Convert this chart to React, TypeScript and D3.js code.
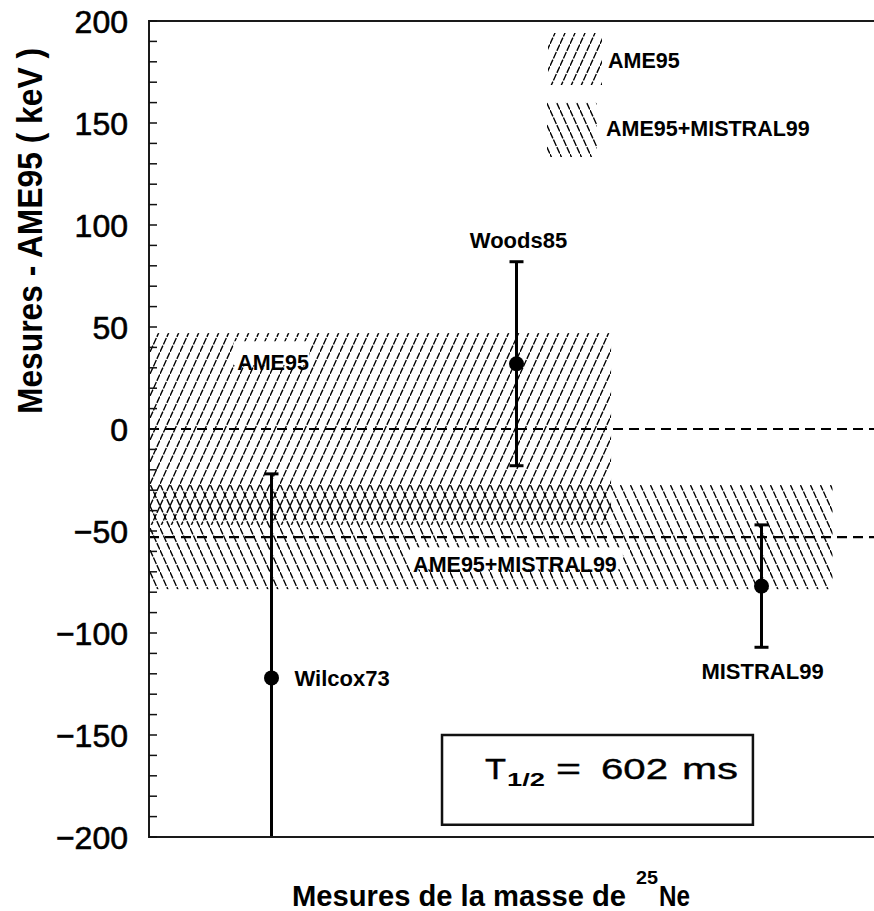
import React from "react";
import * as d3 from "d3";

// ---- data ----
const measurementNames = ["Wilcox73", "Woods85", "MISTRAL99"];
const measurementPos = [1, 2, 3];
const measurementValues = [-122, 32, -77];
const measurementErrors = [100, 50, 30];

const bandNames = ["AME95", "AME95+MISTRAL99"];
const bandCenters = [0, -53];
const bandHalfWidths = [47, 25.5];
const bandEnds = [2.386, 3.29];
const referenceLines = [0, -53];

const yMinorTicks = d3.range(-200, 201, 10);
const yMajorTicks = [-200, -150, -100, -50, 0, 50, 100, 150, 200];

const W = 874;
const H = 911;
const FONT = "'Liberation Sans', Arial, Helvetica, sans-serif";

export default function App() {
  const left = 149, top = 21, bottom = 837, right = 884;
  const x = d3.scaleLinear().domain([0.5, 3.5]).range([left, right]);
  const y = d3.scaleLinear().domain([-200, 200]).range([bottom, top]);
  const fmt = (v: number) => (v < 0 ? "\u2212" + Math.abs(v) : String(v));

  const labelPlacement = [
    { dx: 23, dy: 8, anchor: "start" },
    { dx: 2, dy: -116, anchor: "middle" },
    { dx: 1, dy: 93, anchor: "middle" },
  ];

  return (
    <svg
      width={W}
      height={H}
      viewBox={`0 0 ${W} ${H}`}
      style={{ position: "absolute", left: 0, top: 0, display: "block", background: "#fff" }}
      fontFamily={FONT}
    >
      <defs>
        <pattern id="hatchFwd" patternUnits="userSpaceOnUse" width={10} height={22}>
          <line x1={0} y1={22} x2={10} y2={0} stroke="#000" strokeWidth={1.35} strokeDasharray="7 1.3" />
        </pattern>
        <pattern id="hatchBack" patternUnits="userSpaceOnUse" width={10} height={22}>
          <line x1={0} y1={0} x2={10} y2={22} stroke="#000" strokeWidth={1.35} strokeDasharray="7 1.3" />
        </pattern>
        <clipPath id="plotClip">
          <rect x={left} y={top} width={right - left} height={bottom - top} />
        </clipPath>
      </defs>
      <rect x={0} y={0} width={W} height={H} fill="#fff" />

      <g clipPath="url(#plotClip)">
        {/* bands */}
        {bandNames.map((n, i) => (
          <rect
            key={n}
            x={x(0.5)}
            y={y(bandCenters[i] + bandHalfWidths[i])}
            width={x(bandEnds[i]) - x(0.5)}
            height={y(bandCenters[i] - bandHalfWidths[i]) - y(bandCenters[i] + bandHalfWidths[i])}
            fill={i === 0 ? "url(#hatchFwd)" : "url(#hatchBack)"}
          />
        ))}

        {/* reference dashed lines */}
        {referenceLines.map((v) => (
          <line
            key={v}
            x1={left}
            x2={W}
            y1={y(v)}
            y2={y(v)}
            stroke="#000"
            strokeWidth={2.2}
            strokeDasharray="10 6"
          />
        ))}

        {/* band labels with white background */}
        <rect x={x(0.845)} y={y(43)} width={76} height={24} fill="#fff" />
        <text x={x(0.86)} y={y(29)} fontSize={21.5} fontWeight="bold" fill="#000">
          {bandNames[0]}
        </text>
        <rect x={x(1.565)} y={y(-58)} width={213} height={22} fill="#fff" />
        <text x={x(1.578)} y={y(-70)} fontSize={21.5} fontWeight="bold" fill="#000">
          {bandNames[1]}
        </text>

        {/* error bars */}
        {measurementNames.map((n, i) => {
          const cx = x(measurementPos[i]);
          const hi = measurementValues[i] + measurementErrors[i];
          const lo = measurementValues[i] - measurementErrors[i];
          return (
            <g key={n}>
              <line x1={cx} x2={cx} y1={y(hi)} y2={y(lo)} stroke="#000" strokeWidth={3} />
              <line x1={cx - 7} x2={cx + 7} y1={y(hi)} y2={y(hi)} stroke="#000" strokeWidth={3} />
              <line x1={cx - 7} x2={cx + 7} y1={y(lo)} y2={y(lo)} stroke="#000" strokeWidth={3} />
              <circle cx={cx} cy={y(measurementValues[i])} r={7.5} fill="#000" />
            </g>
          );
        })}
      </g>

      {/* point labels */}
      {measurementNames.map((n, i) => (
        <text
          key={n}
          x={x(measurementPos[i]) + labelPlacement[i].dx}
          y={y(measurementValues[i]) + labelPlacement[i].dy}
          textAnchor={labelPlacement[i].anchor as any}
          fontSize={22}
          fontWeight="bold"
          fill="#000"
        >
          {n}
        </text>
      ))}

      {/* frame */}
      <path
        d={`M${W + 2},${top} H${left} V${bottom} H${W + 2}`}
        fill="none"
        stroke="#1a1a1a"
        strokeWidth={2}
      />

      {/* y ticks */}
      {yMinorTicks.map((t) => (
        <line key={t} x1={left} x2={left + 8} y1={y(t)} y2={y(t)} stroke="#111" strokeWidth={1.5} />
      ))}
      {yMajorTicks.map((t) => (
        <text
          key={t}
          x={128}
          y={y(t)}
          dy="0.36em"
          textAnchor="end"
          fontSize={32}
          fill="#000"
          stroke="#000"
          strokeWidth={0.6}
        >
          {fmt(t)}
        </text>
      ))}

      {/* y axis title */}
      <text
        transform={`translate(42,${231}) rotate(-90)`}
        textAnchor="middle"
        fontSize={35}
        fontWeight="bold"
        textLength={366}
        lengthAdjust="spacingAndGlyphs"
        fill="#000"
      >
        Mesures - AME95 ( keV )
      </text>

      {/* x axis title */}
      <text x={292} y={906} fontSize={30} fontWeight="bold" textLength={334} lengthAdjust="spacingAndGlyphs" fill="#000">
        Mesures de la masse de
      </text>
      <text x={636} y={884} fontSize={18} fontWeight="bold" textLength={22} lengthAdjust="spacingAndGlyphs" fill="#000">
        25
      </text>
      <text x={659} y={906} fontSize={30} fontWeight="bold" textLength={31} lengthAdjust="spacingAndGlyphs" fill="#000">
        Ne
      </text>

      {/* legend */}
      <rect x={548} y={33} width={54} height={52} fill="url(#hatchFwd)" />
      <text x={608} y={68} fontSize={21.5} fontWeight="bold" fill="#000">
        {bandNames[0]}
      </text>
      <rect x={547} y={102} width={50} height={55} fill="url(#hatchBack)" />
      <text x={606} y={136} fontSize={21.5} fontWeight="bold" fill="#000">
        {bandNames[1]}
      </text>

      {/* half-life box */}
      <rect
        x={x(1.696)}
        y={y(-150)}
        width={x(2.965) - x(1.696)}
        height={y(-194) - y(-150)}
        fill="#fff"
        stroke="#111"
        strokeWidth={2.5}
      />
      <text x={485} y={779} fontSize={29} textLength={21} lengthAdjust="spacingAndGlyphs" fill="#000" stroke="#000" strokeWidth={0.4}>
        T
      </text>
      <text x={507} y={786} fontSize={19} fontWeight="bold" textLength={38} lengthAdjust="spacingAndGlyphs" fill="#000">
        1/2
      </text>
      <text x={556} y={779} fontSize={29} textLength={25} lengthAdjust="spacingAndGlyphs" fill="#000" stroke="#000" strokeWidth={0.4}>
        =
      </text>
      <text x={601} y={779} fontSize={29} textLength={67} lengthAdjust="spacingAndGlyphs" fill="#000" stroke="#000" strokeWidth={0.4}>
        602
      </text>
      <text x={682} y={779} fontSize={29} textLength={56} lengthAdjust="spacingAndGlyphs" fill="#000" stroke="#000" strokeWidth={0.4}>
        ms
      </text>
    </svg>
  );
}
